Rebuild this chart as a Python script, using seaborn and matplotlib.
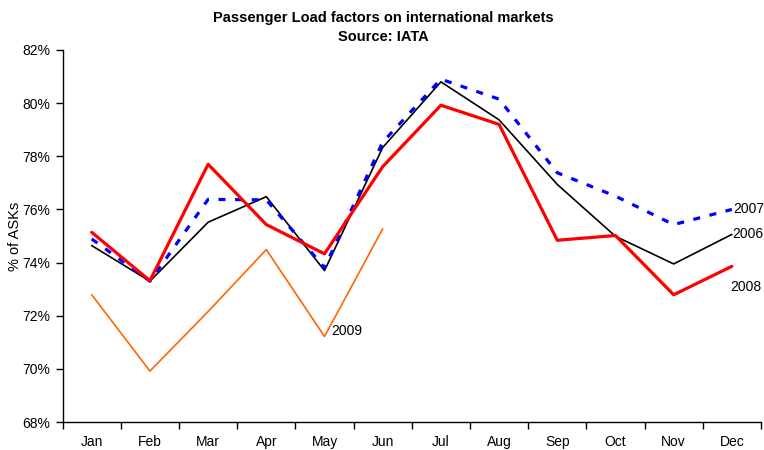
import numpy as np
import pandas as pd
import matplotlib
matplotlib.use('Agg')
import matplotlib.pyplot as plt
import seaborn as sns

sns.set_style('white')
plt.rcParams['font.family'] = ['Liberation Sans', 'DejaVu Sans']
plt.rcParams['text.color'] = 'black'
plt.rcParams['axes.labelcolor'] = 'black'
plt.rcParams['xtick.color'] = 'black'
plt.rcParams['ytick.color'] = 'black'

# Passenger load factors (%)
months = ['Jan', 'Feb', 'Mar', 'Apr', 'May', 'Jun',
          'Jul', 'Aug', 'Sep', 'Oct', 'Nov', 'Dec']
lf_2006 = [74.64, 73.30, 75.52, 76.48, 73.70, 78.33,
           80.80, 79.37, 76.94, 74.99, 73.95, 75.06]
lf_2007 = [74.89, 73.30, 76.38, 76.36, 73.81, 78.53,
           80.90, 80.15, 77.38, 76.50, 75.43, 76.00]
lf_2008 = [75.14, 73.32, 77.70, 75.43, 74.33, 77.61,
           79.92, 79.20, 74.84, 75.02, 72.79, 73.86]
lf_2009 = [72.79, 69.92, 72.16, 74.49, 71.22, 75.27]

rows = []
for year, vals in [('2007', lf_2007), ('2006', lf_2006),
                   ('2008', lf_2008), ('2009', lf_2009)]:
    for i, v in enumerate(vals):
        rows.append({'month': i, 'year': year, 'lf': v})
df = pd.DataFrame(rows)

styles = {
    '2006': dict(color='#000000', lw=1.2),
    '2007': dict(color='#0000FF', lw=2.3, dashes=(2.2, 3.0)),
    '2008': dict(color='#FF0000', lw=2.3),
    '2009': dict(color='#FF6600', lw=1.2),
}

fig = plt.figure(figsize=(7.64, 4.5), dpi=100)
ax = fig.add_axes([0.082, 0.062, 0.914, 0.827])

for year in ['2009', '2006', '2007', '2008']:
    st = styles[year]
    d = df[df['year'] == year]
    sns.lineplot(data=d, x='month', y='lf', ax=ax, color=st['color'],
                 lw=st['lw'], legend=False)
    if 'dashes' in st:
        ax.lines[-1].set_dashes(st['dashes'])
        ax.lines[-1].set_dash_capstyle('butt')

# end labels
ax.annotate('2007', (11, lf_2007[-1]), xytext=(1, 0), textcoords='offset points',
            va='center', ha='left', fontsize=10)
ax.annotate('2006', (11, lf_2006[-1]), xytext=(0, 0), textcoords='offset points',
            va='center', ha='left', fontsize=10)
ax.annotate('2008', (11, lf_2008[-1]), xytext=(-1, -15), textcoords='offset points',
            va='center', ha='left', fontsize=10)
ax.annotate('2009', (4, lf_2009[4]), xytext=(5, 4), textcoords='offset points',
            va='center', ha='left', fontsize=10)

ax.set_xlim(-0.5, 11.5)
ax.set_ylim(68, 82)
ax.set_yticks(np.arange(68, 83, 2))
ax.set_yticklabels([f'{v}%' for v in range(68, 83, 2)], fontsize=10)
ax.set_xticks(np.arange(-0.5, 12, 1))
ax.set_xticklabels([])
ax.set_xticks(np.arange(12), minor=True)
ax.set_xticklabels(months, minor=True, fontsize=10)
ax.tick_params(axis='x', which='major', direction='out', length=5, width=1, color='black', bottom=True)
ax.tick_params(axis='x', which='minor', length=0, pad=9)
ax.tick_params(axis='y', direction='out', length=5, width=1, color='black', left=True, pad=4)

for s in ['top', 'right']:
    ax.spines[s].set_visible(False)
for s in ['left', 'bottom']:
    ax.spines[s].set_color('black')
    ax.spines[s].set_linewidth(1)

ax.set_xlabel('')
ax.set_ylabel('% of ASKs', fontsize=10.5, labelpad=0)

fig.text(0.502, 0.975, 'Passenger Load factors on international markets\nSource: IATA',
         ha='center', va='top', fontsize=10.5, fontweight='bold', linespacing=1.45)

fig.savefig('out.png', dpi=100)
